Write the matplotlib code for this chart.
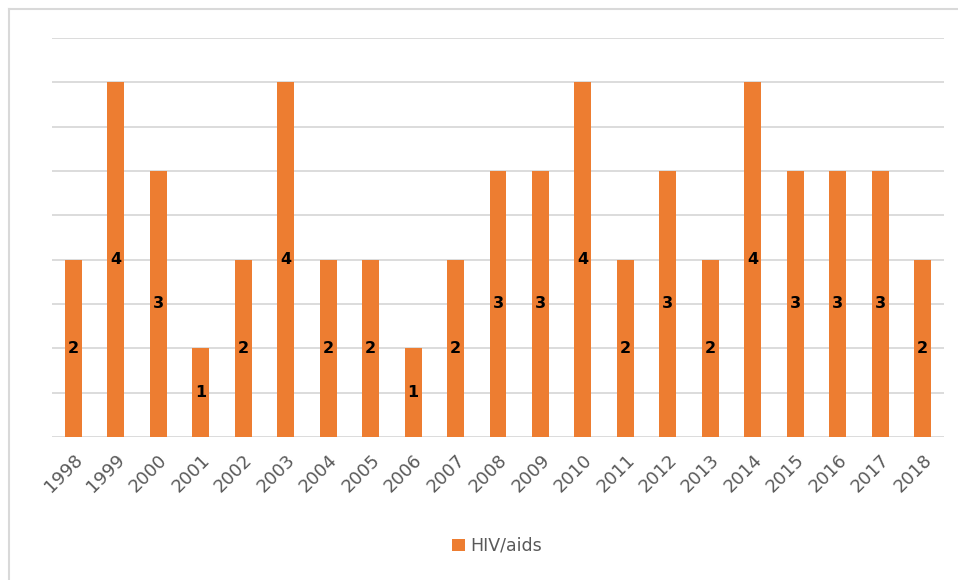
import matplotlib
matplotlib.use('Agg')
import matplotlib.pyplot as plt
from matplotlib.lines import Line2D
import numpy as np

years = [str(y) for y in range(1998, 2019)]
cases = [2, 4, 3, 1, 2, 4, 2, 2, 1, 2, 3, 3, 4, 2, 3, 2, 4, 3, 3, 3, 2]
series_name = 'HIV/aids'

orange = '#ED7D31'
grey_txt = '#595959'

fig = plt.figure(figsize=(9.58, 5.80), dpi=100)
ax = fig.add_axes([52/958, 1 - 437/580, 892/958, 399/580])

x = np.arange(len(years))
bars = ax.bar(x, cases, width=0.4, color=orange, label=series_name, zorder=3)
for xi, v in zip(x, cases):
    ax.text(xi, v / 2, str(v), ha='center', va='center', fontsize=11.5,
            fontweight='bold', color='black', zorder=4)

ax.set_xlim(-0.5, len(years) - 0.5)
ax.set_ylim(0, 4.5)
ax.set_yticks(np.arange(0, 4.51, 0.5))
ax.set_yticklabels([])
ax.tick_params(axis='y', length=0)
ax.tick_params(axis='x', length=0, pad=10)
ax.grid(axis='y', color='#d9d9d9', linewidth=1.3, zorder=0)
for s in ax.spines.values():
    s.set_visible(False)
ax.set_xticks(x)
ax.set_xticklabels(years, rotation=45, ha='right', rotation_mode='anchor',
                   fontsize=13, color=grey_txt)

fig.legend(handles=[bars], labels=[series_name], loc='center',
           bbox_to_anchor=(497/958, 1 - 546/580), frameon=False,
           fontsize=12.5, labelcolor=grey_txt, handlelength=0.7,
           handleheight=0.7, handletextpad=0.3)

# chart area border (left and top edge visible)
fig.add_artist(Line2D([9/958, 9/958], [0, 1 - 9/580], transform=fig.transFigure,
                      color='#d9d9d9', linewidth=1.5))
fig.add_artist(Line2D([9/958, 1], [1 - 9/580, 1 - 9/580], transform=fig.transFigure,
                      color='#d9d9d9', linewidth=1.5))

fig.savefig('out.png', dpi=100)
